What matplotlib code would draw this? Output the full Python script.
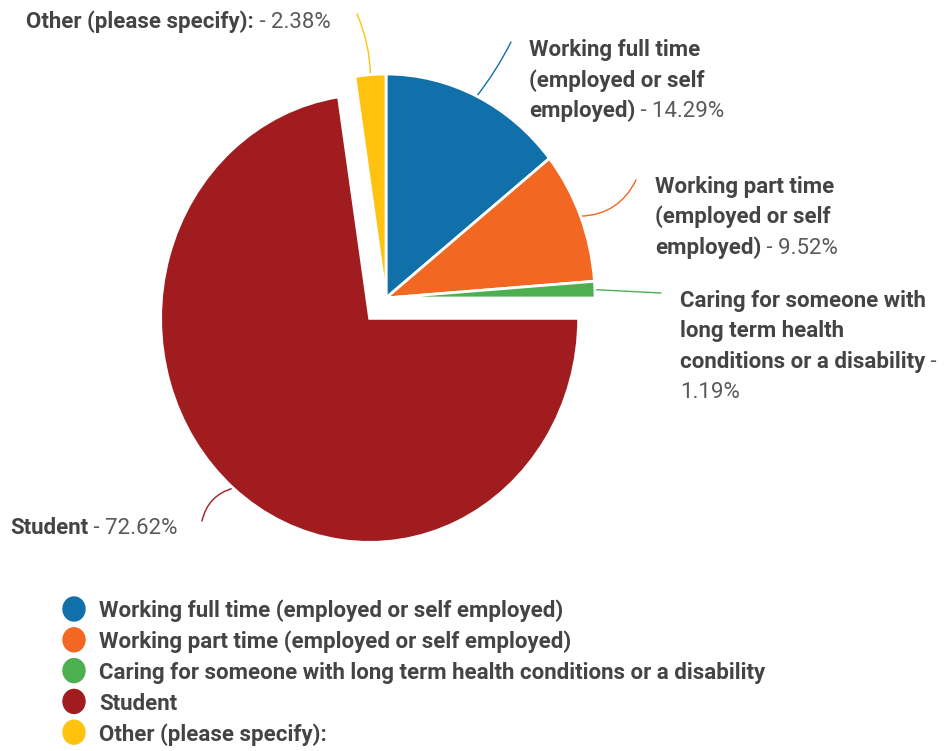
import matplotlib
matplotlib.use("Agg")
import matplotlib.pyplot as plt
import numpy as np
from matplotlib.patches import Ellipse

plt.rcParams['font.family'] = ['Roboto', 'DejaVu Sans']

# data
categories = ["Working full time (employed or self employed)",
              "Working part time (employed or self employed)",
              "Caring for someone with long term health conditions or a disability",
              "Student",
              "Other (please specify):"]
values = [14.29, 9.52, 1.19, 72.62, 2.38]
colors = ["#1170aa", "#f26722", "#4caf50", "#a11c1e", "#ffc20e"]
callout_names = ["Working full time\n(employed or self\nemployed)",
                 "Working part time\n(employed or self\nemployed)",
                 "Caring for someone with\nlong term health\nconditions or a disability",
                 "Student",
                 "Other (please specify):"]
pct_on_new_line = [False, False, True, False, False]

# layout (pixels)
W, H = 944, 751
cx, cy, rx, ry = 386, 298, 209, 224
text_pos = [(529, 56), (655, 193), (680, 307), (10, 534), (26, 28)]
line_end = [(511, 42), (636, 180), (661, 293), (202, 521), (357, 14)]
line_rad = [0.05, 0.3, 0.0, 0.3, 0.1]
line_step = 30.5

dark = "#444444"
grey = "#5a5a5a"
fs = 16

fig = plt.figure(figsize=(W / 100, H / 100), dpi=100)

ax = fig.add_axes([0, 0, 1, 1])
ax.set_xlim(0, W)
ax.set_ylim(H, 0)
ax.axis('off')

pax = fig.add_axes([(cx - 1.25 * rx) / W, 1 - (cy + 1.25 * ry) / H,
                    2.5 * rx / W, 2.5 * ry / H])
explode = [0.12 if c == "Student" else 0 for c in categories]
wedges, _ = pax.pie(values, colors=colors, startangle=90, counterclock=False,
                    explode=explode, radius=1,
                    wedgeprops=dict(edgecolor='white', linewidth=2))
pax.set_xlim(-1.25, 1.25)
pax.set_ylim(-1.25, 1.25)
pax.set_aspect('auto')
pax.axis('off')

renderer = fig.canvas.get_renderer()

for i, w in enumerate(wedges):
    # leader line from the middle of the wedge arc
    th = np.deg2rad((w.theta1 + w.theta2) / 2)
    p = np.array(w.center) + w.r * np.array([np.cos(th), np.sin(th)])
    start = ax.transData.inverted().transform(pax.transData.transform(p))
    ax.annotate("", xy=line_end[i], xytext=start,
                arrowprops=dict(arrowstyle='-', color=colors[i], lw=1,
                                shrinkA=0, shrinkB=0,
                                connectionstyle=f"arc3,rad={line_rad[i]}"))

    # callout label: bold name, regular percentage
    x, y = text_pos[i]
    lines = callout_names[i].split("\n")
    pct = f"{values[i]:.2f}%"
    for j, s in enumerate(lines):
        t = ax.text(x, y + j * line_step, s, fontsize=fs, fontweight='bold',
                    color=dark, va='baseline', ha='left')
    bb = t.get_window_extent(renderer)
    xe = ax.transData.inverted().transform((bb.x1, bb.y0))[0]
    ylast = y + (len(lines) - 1) * line_step
    if pct_on_new_line[i]:
        ax.text(xe, ylast, " -", fontsize=fs, color=grey, va='baseline')
        ax.text(x, ylast + line_step, pct, fontsize=fs, color=grey, va='baseline')
    else:
        ax.text(xe, ylast, " - " + pct, fontsize=fs, color=grey, va='baseline')

# legend
for i, c in enumerate(categories):
    ly = 609 + i * 30.8
    ax.add_patch(Ellipse((74, ly), 22, 24, color=colors[i]))
    ax.text(99, ly + 8.5, c, fontsize=fs, fontweight='bold', color=dark,
            va='baseline', ha='left')

fig.savefig("out.png", dpi=100)
